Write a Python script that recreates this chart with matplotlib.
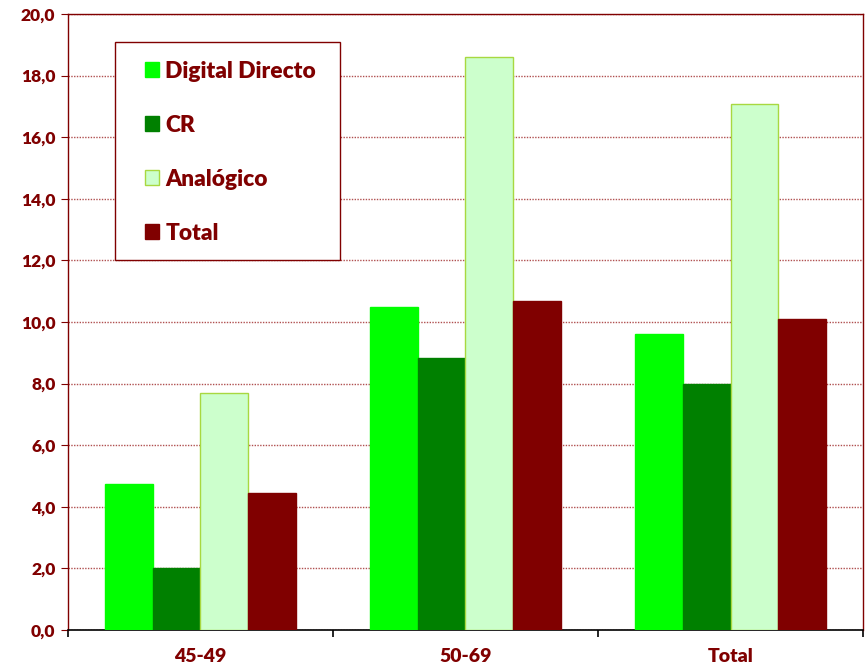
import numpy as np
import matplotlib.pyplot as plt
from matplotlib.patches import Rectangle
from matplotlib.ticker import FixedLocator, FuncFormatter

# data
categories = ['45-49', '50-69', 'Total']
series = ['Digital Directo', 'CR', 'Analógico', 'Total']
digital = [4.75, 10.5, 9.6]
cr = [2.0, 8.83, 8.0]
analogico = [7.68, 18.6, 17.08]
total = [4.45, 10.68, 10.1]

colors = ['#00ff00', '#008000', '#ccffcc', '#800000']
edges = ['#00ff00', '#008000', '#a8d840', '#800000']
txt = '#800000'

plt.rcParams['font.family'] = ['Lato', 'DejaVu Sans']
plt.rcParams['font.weight'] = 'heavy'

fig = plt.figure(figsize=(8.65, 6.64), dpi=100)
ax = fig.add_axes([0.0786, 0.0512, 0.9191, 0.9277])

x = np.arange(len(categories))
w = 0.181
for k, (vals, name) in enumerate(zip([digital, cr, analogico, total], series)):
    ax.bar(x + (k - 1.5) * w, vals, w, color=colors[k], edgecolor=edges[k],
           linewidth=1, label=name, zorder=3)

ax.set_xlim(-0.5, 2.5)
ax.set_ylim(0, 20)
ax.set_yticks(np.arange(0, 20.1, 2))
ax.yaxis.set_major_formatter(FuncFormatter(lambda v, p: f'{v:.1f}'.replace('.', ',')))
ax.grid(axis='y', color='#b05050', linestyle=(0, (1, 1)), linewidth=1, zorder=0)

ax.set_xticks(x)
ax.set_xticklabels(categories)
ax.xaxis.set_minor_locator(FixedLocator([-0.5, 0.5, 1.5, 2.5]))
ax.tick_params(axis='x', which='major', length=0, pad=13, labelsize=14, labelcolor=txt)
ax.tick_params(axis='x', which='minor', length=5, color='black', width=1.2)
ax.tick_params(axis='y', length=5, color=txt, labelsize=12.5, labelcolor=txt, pad=4)

for s in ['left', 'top', 'right']:
    ax.spines[s].set_color(txt)
    ax.spines[s].set_linewidth(1)
ax.spines['bottom'].set_color('black')
ax.spines['bottom'].set_linewidth(1.2)

# legend box drawn separately so its padding can match
ax.add_patch(Rectangle((0.0591, 0.6006), 0.283, 0.3539, transform=ax.transAxes,
                       facecolor='white', edgecolor=txt, linewidth=1, zorder=4))
leg = ax.legend(loc='upper left', bbox_to_anchor=(0.0680, 0.961), frameon=False,
                fontsize=16.4, labelspacing=1.45,
                handlelength=0.62, handleheight=0.62, handletextpad=0.28,
                borderpad=1.0, borderaxespad=0)
leg.set_zorder(5)
for t in leg.get_texts():
    t.set_color(txt)

fig.savefig('out.png', dpi=100)
